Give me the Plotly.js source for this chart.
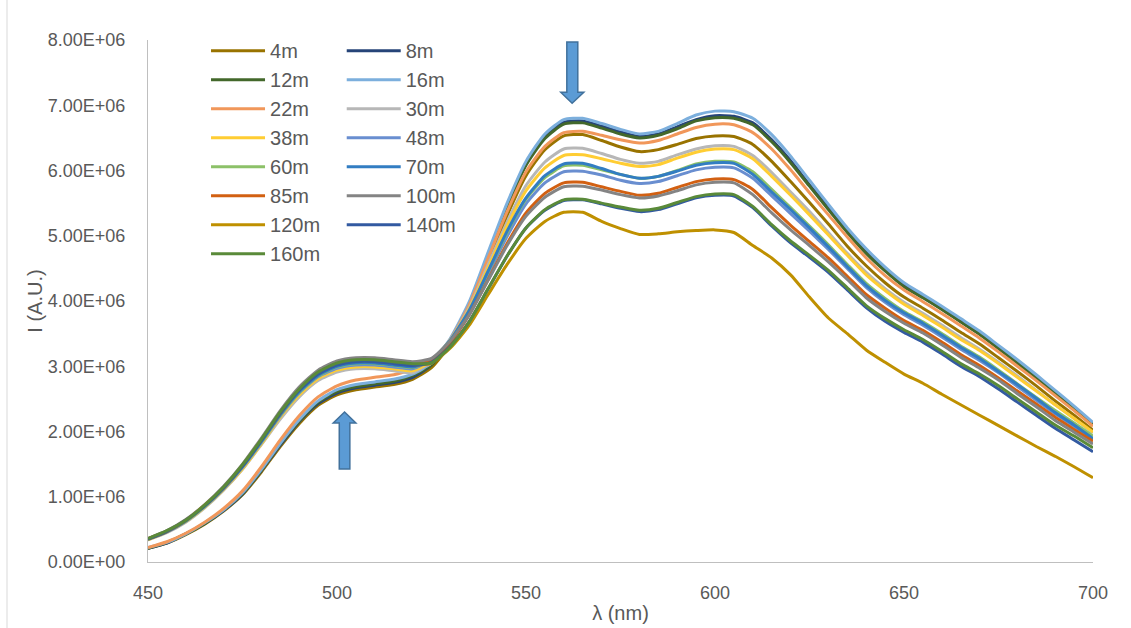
<!DOCTYPE html>
<html><head><meta charset="utf-8">
<script src="https://cdn.plot.ly/plotly-3.0.1.min.js"></script>
<style>html,body{margin:0;padding:0;background:#fff}#chart{width:1131px;height:628px}</style>
</head><body><div id="chart"></div>
<script>
// wavelength (nm)
const wavelengths = [450,455,460,465,470,475,480,485,490,495,500,505,510,515,520,525,530,535,540,545,550,555,560,565,570,575,580,585,590,595,600,605,610,615,620,625,630,635,640,645,650,655,660,665,670,675,680,685,690,695,700];

// intensities in units of 1E+06 (A.U.)
const s4m   = [0.21,0.29,0.42,0.58,0.78,1.03,1.38,1.77,2.12,2.40,2.56,2.64,2.68,2.72,2.80,2.98,3.34,3.88,4.60,5.31,5.92,6.32,6.53,6.55,6.46,6.36,6.29,6.32,6.40,6.49,6.53,6.52,6.40,6.14,5.83,5.51,5.18,4.84,4.54,4.28,4.06,3.89,3.71,3.52,3.34,3.13,2.92,2.70,2.47,2.25,2.02];
const s8m   = [0.21,0.29,0.43,0.59,0.79,1.04,1.40,1.79,2.15,2.43,2.59,2.67,2.71,2.75,2.83,3.02,3.40,3.96,4.71,5.46,6.10,6.52,6.74,6.76,6.68,6.59,6.52,6.56,6.67,6.78,6.84,6.83,6.73,6.47,6.15,5.78,5.43,5.07,4.75,4.48,4.24,4.06,3.88,3.69,3.50,3.29,3.07,2.84,2.60,2.37,2.12];
const s12m  = [0.21,0.30,0.43,0.59,0.80,1.05,1.41,1.81,2.16,2.45,2.61,2.69,2.73,2.77,2.86,3.02,3.39,3.95,4.70,5.44,6.08,6.49,6.71,6.73,6.65,6.56,6.50,6.54,6.64,6.76,6.81,6.80,6.70,6.44,6.12,5.76,5.40,5.05,4.73,4.46,4.22,4.05,3.87,3.68,3.49,3.27,3.05,2.82,2.59,2.35,2.11];
const s16m  = [0.22,0.30,0.43,0.60,0.80,1.06,1.42,1.82,2.18,2.47,2.64,2.72,2.76,2.80,2.88,3.05,3.43,3.99,4.75,5.50,6.14,6.56,6.78,6.80,6.72,6.63,6.56,6.60,6.72,6.85,6.91,6.90,6.80,6.55,6.22,5.85,5.48,5.12,4.80,4.52,4.28,4.10,3.92,3.73,3.54,3.32,3.10,2.87,2.63,2.39,2.14];
const s22m  = [0.22,0.31,0.44,0.61,0.82,1.09,1.46,1.87,2.24,2.53,2.70,2.79,2.83,2.87,2.95,3.05,3.41,3.94,4.66,5.37,5.98,6.37,6.58,6.60,6.54,6.47,6.42,6.46,6.56,6.66,6.71,6.70,6.58,6.33,6.01,5.66,5.32,4.98,4.66,4.39,4.17,3.99,3.81,3.62,3.43,3.22,3.00,2.78,2.55,2.32,2.08];
const s30m  = [0.34,0.45,0.61,0.83,1.10,1.42,1.80,2.19,2.53,2.78,2.91,2.96,2.96,2.93,2.90,3.08,3.41,3.90,4.56,5.21,5.77,6.13,6.33,6.34,6.26,6.17,6.11,6.14,6.24,6.33,6.38,6.37,6.23,5.97,5.67,5.37,5.05,4.73,4.44,4.19,3.98,3.81,3.63,3.44,3.26,3.06,2.85,2.63,2.41,2.20,1.98];
const s38m  = [0.34,0.46,0.62,0.84,1.11,1.43,1.81,2.22,2.56,2.81,2.94,2.99,2.99,2.96,2.93,3.08,3.40,3.88,4.51,5.15,5.69,6.04,6.23,6.24,6.18,6.11,6.06,6.09,6.19,6.28,6.33,6.32,6.18,5.91,5.62,5.32,5.01,4.70,4.40,4.16,3.95,3.78,3.60,3.41,3.24,3.04,2.83,2.62,2.41,2.20,1.99];
const s48m  = [0.35,0.46,0.63,0.85,1.12,1.45,1.83,2.24,2.59,2.84,2.97,3.02,3.02,2.99,2.96,3.10,3.39,3.83,4.41,4.99,5.49,5.81,5.98,5.99,5.93,5.85,5.80,5.83,5.92,6.01,6.05,6.04,5.88,5.61,5.34,5.07,4.79,4.50,4.21,3.98,3.79,3.63,3.45,3.26,3.09,2.90,2.69,2.48,2.27,2.08,1.88];
const s60m  = [0.35,0.47,0.63,0.85,1.13,1.46,1.84,2.25,2.60,2.85,2.99,3.04,3.04,3.01,2.98,3.10,3.40,3.85,4.45,5.05,5.56,5.89,6.07,6.08,6.01,5.94,5.88,5.91,6.00,6.10,6.14,6.13,5.98,5.71,5.43,5.15,4.86,4.56,4.27,4.04,3.84,3.68,3.50,3.31,3.14,2.94,2.73,2.52,2.32,2.13,1.93];
const s70m  = [0.35,0.47,0.63,0.86,1.13,1.46,1.85,2.26,2.61,2.86,3.00,3.05,3.05,3.02,2.99,3.10,3.40,3.86,4.46,5.07,5.58,5.92,6.10,6.11,6.03,5.94,5.88,5.91,5.99,6.08,6.12,6.11,5.94,5.67,5.40,5.12,4.83,4.53,4.24,4.01,3.82,3.66,3.48,3.29,3.12,2.92,2.72,2.51,2.29,2.10,1.89];
const s85m  = [0.36,0.47,0.64,0.87,1.14,1.48,1.88,2.29,2.65,2.90,3.04,3.09,3.09,3.06,3.03,3.10,3.37,3.79,4.33,4.88,5.35,5.65,5.81,5.82,5.75,5.68,5.62,5.65,5.74,5.83,5.87,5.86,5.71,5.43,5.16,4.91,4.66,4.38,4.10,3.89,3.70,3.55,3.37,3.18,3.01,2.82,2.62,2.42,2.22,2.03,1.85];
const s100m = [0.36,0.48,0.65,0.88,1.16,1.50,1.90,2.32,2.68,2.94,3.08,3.13,3.13,3.10,3.07,3.12,3.39,3.79,4.32,4.85,5.30,5.59,5.75,5.76,5.70,5.63,5.58,5.61,5.69,5.78,5.82,5.81,5.63,5.35,5.09,4.85,4.60,4.33,4.05,3.84,3.66,3.51,3.33,3.14,2.97,2.79,2.58,2.38,2.17,1.99,1.81];
const s120m = [0.35,0.47,0.64,0.87,1.14,1.48,1.87,2.28,2.64,2.89,3.03,3.08,3.08,3.05,3.02,3.05,3.28,3.63,4.10,4.56,4.96,5.22,5.36,5.36,5.22,5.11,5.02,5.03,5.06,5.08,5.09,5.05,4.85,4.66,4.40,4.06,3.74,3.50,3.25,3.06,2.88,2.74,2.57,2.41,2.25,2.09,1.93,1.77,1.62,1.46,1.29];
const s140m = [0.35,0.47,0.64,0.86,1.14,1.47,1.86,2.28,2.63,2.88,3.02,3.07,3.07,3.04,3.01,3.06,3.31,3.69,4.19,4.69,5.12,5.39,5.54,5.55,5.49,5.42,5.37,5.40,5.49,5.58,5.62,5.61,5.43,5.15,4.89,4.67,4.44,4.17,3.90,3.69,3.52,3.37,3.19,3.00,2.84,2.65,2.45,2.25,2.05,1.87,1.69];
const s160m = [0.36,0.48,0.64,0.87,1.15,1.49,1.88,2.30,2.65,2.91,3.05,3.10,3.10,3.07,3.04,3.05,3.30,3.68,4.19,4.69,5.12,5.40,5.55,5.56,5.50,5.44,5.39,5.42,5.51,5.60,5.64,5.63,5.45,5.17,4.92,4.70,4.47,4.20,3.93,3.73,3.56,3.41,3.23,3.04,2.88,2.70,2.50,2.30,2.10,1.93,1.75];

const seriesNames = ['4m','8m','12m','16m','22m','30m','38m','48m','60m','70m','85m','100m','120m','140m','160m'];
const seriesValues = [s4m,s8m,s12m,s16m,s22m,s30m,s38m,s48m,s60m,s70m,s85m,s100m,s120m,s140m,s160m];
const seriesColors = ['#997300','#264478','#43682B','#7CAFDD','#F1975A','#B7B7B7','#FFCD33','#698ED0','#8CC168','#327DC2','#D26012','#848484','#BF9000','#335AA1','#5A8A39'];
const UNIT = 1e6;

const yTickVals = [0,1,2,3,4,5,6,7,8];
const yTickText = ['0.00E+00','1.00E+06','2.00E+06','3.00E+06','4.00E+06','5.00E+06','6.00E+06','7.00E+06','8.00E+06'];
const xTickVals = [450,500,550,600,650,700];

const FONT = 'Liberation Sans, Arial, sans-serif';
const TXT = '#595959';

const traces = seriesNames.map((name, i) => ({
  type: 'scatter', mode: 'lines', name: name,
  x: wavelengths,
  y: seriesValues[i].map(v => v * UNIT),
  line: {color: seriesColors[i], width: 3, shape: 'spline', smoothing: 0.6},
  legend: i % 2 === 0 ? 'legend' : 'legend2',
  legendgroup: name,
  hoverinfo: 'x+y+name'
}));

const legendBase = {
  xanchor: 'left', yanchor: 'top', y: 1.017,
  bgcolor: 'rgba(0,0,0,0)', borderwidth: 0,
  font: {family: FONT, size: 20, color: TXT},
  itemwidth: 54, tracegroupgap: 0, traceorder: 'grouped'
};

const arrowStyle = {fillcolor: '#5B9BD5', line: {color: '#41719C', width: 1.5}, layer: 'above'};

const layout = {
  width: 1131, height: 628,
  margin: {l: 148, r: 38, t: 40, b: 66},
  paper_bgcolor: '#ffffff', plot_bgcolor: '#ffffff',
  font: {family: FONT, color: TXT},
  showlegend: true,
  legend: Object.assign({}, legendBase, {x: 0.0614}),
  legend2: Object.assign({}, legendBase, {x: 0.205}),
  xaxis: {
    range: [450, 700], tickvals: xTickVals, ticks: '',
    showgrid: false, zeroline: false,
    showline: true, linecolor: '#BFBFBF', linewidth: 1,
    tickfont: {family: FONT, size: 18, color: TXT},
    ticklabelstandoff: 14,
    title: {text: 'λ (nm)', font: {family: FONT, size: 20, color: TXT}, standoff: 4}
  },
  yaxis: {
    range: [0, 8 * UNIT], tickvals: yTickVals.map(v => v * UNIT), ticktext: yTickText, ticks: '',
    showgrid: false, zeroline: false,
    showline: true, linecolor: '#BFBFBF', linewidth: 1,
    tickfont: {family: FONT, size: 18, color: TXT},
    ticklabelstandoff: 18,
    title: {text: 'I (A.U.)', font: {family: FONT, size: 20, color: TXT}}
  },
  shapes: [
    {type: 'line', xref: 'paper', yref: 'paper', x0: -0.1492, x1: -0.1492, y0: -0.13, y1: 1.08, line: {color: '#D9D9D9', width: 1}},
    Object.assign({type: 'path', xref: 'x', yref: 'y',
      path: 'M560.8,7970000 L563.7,7970000 L563.7,7200000 L565.3,7200000 L562.2,7030000 L559.2,7200000 L560.8,7200000 Z'}, arrowStyle),
    Object.assign({type: 'path', xref: 'x', yref: 'y',
      path: 'M500.6,1425000 L503.4,1425000 L503.4,2130000 L505.0,2130000 L502.0,2300000 L499.0,2130000 L500.6,2130000 Z'}, arrowStyle)
  ]
};

Plotly.newPlot('chart', traces, layout, {displayModeBar: false, responsive: false});
</script>
</body></html>
